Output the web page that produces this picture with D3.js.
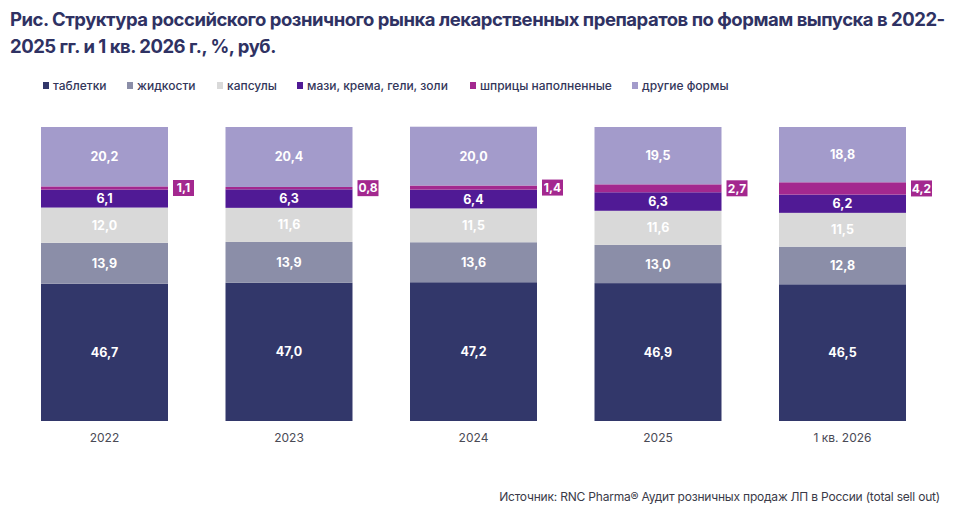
<!DOCTYPE html>
<html>
<head>
<meta charset="utf-8">
<script src="https://cdn.jsdelivr.net/npm/d3@7"></script>
<style>
  body { margin: 0; background: #fff; }
  svg { font-family: Inter, "Noto Sans", sans-serif; }
</style>
</head>
<body>
<svg id="chart" width="957" height="512"></svg>
<script>
var categories = ['2022', '2023', '2024', '2025', '1 кв. 2026'];
var seriesNames = ['таблетки', 'жидкости', 'капсулы', 'мази, крема, гели, золи', 'шприцы наполненные', 'другие формы'];
var seriesColors = ['#32376a', '#8b8ea8', '#d9d9d9', '#501a95', '#a3288f', '#a39bcb'];

var tablets   = [46.7, 47.0, 47.2, 46.9, 46.5];
var liquids   = [13.9, 13.9, 13.6, 13.0, 12.8];
var capsules  = [12.0, 11.6, 11.5, 11.6, 11.5];
var ointments = [6.1, 6.3, 6.4, 6.3, 6.2];
var syringes  = [1.1, 0.8, 1.4, 2.7, 4.2];
var others    = [20.2, 20.4, 20.0, 19.5, 18.8];

var seriesValues = [tablets, liquids, capsules, ointments, syringes, others];

var svg = d3.select('#chart');

// title
var title = svg.append('text')
  .attr('x', 10)
  .attr('fill', '#2f3263')
  .style('font-size', '18.5px')
  .style('font-weight', 700)
  .style('letter-spacing', '-0.48px');
title.append('tspan').attr('x', 10).attr('y', 26)
  .text('Рис. Структура российского розничного рынка лекарственных препаратов по формам выпуска в 2022-');
title.append('tspan').attr('x', 10).attr('y', 53)
  .text('2025 гг. и 1 кв. 2026 г., %, руб.');

// legend
var legendX = [43, 127, 217, 297, 470, 632];
var legend = svg.append('g').attr('class', 'legend');
seriesNames.forEach(function (name, i) {
  var g = legend.append('g').attr('transform', 'translate(' + legendX[i] + ', 86)');
  g.append('rect').attr('x', 0).attr('y', -4).attr('width', 6).attr('height', 7)
    .attr('fill', seriesColors[i]);
  g.append('text').attr('x', 10).attr('y', 4)
    .attr('fill', '#33365a')
    .style('font-size', '12px')
    .style('font-weight', 500)
    .text(name);
});

// scales
var x = d3.scaleBand()
  .domain(categories)
  .range([41, 906])
  .paddingInner(0.3117)
  .paddingOuter(0);

var y = d3.scaleLinear()
  .domain([0, 100])
  .range([421, 127]);

// stacked data
var table = categories.map(function (c, i) {
  var row = { category: c };
  seriesNames.forEach(function (s, j) { row[s] = seriesValues[j][i]; });
  return row;
});
var layers = d3.stack().keys(seriesNames)(table);

var groups = svg.append('g').attr('class', 'bars')
  .selectAll('g')
  .data(layers)
  .enter().append('g')
  .attr('fill', function (d, i) { return seriesColors[i]; });

groups.selectAll('rect')
  .data(function (d) { return d; })
  .enter().append('rect')
  .attr('x', function (d) { return x(d.data.category); })
  .attr('y', function (d) { return y(d[1]); })
  .attr('width', x.bandwidth())
  .attr('height', function (d) { return y(d[0]) - y(d[1]); });

var fmt = function (v) { return d3.format('.1f')(v).replace('.', ','); };

// value labels inside bars (all but syringes)
layers.forEach(function (layer, i) {
  if (i === 4) return;
  svg.append('g').selectAll('text')
    .data(layer)
    .enter().append('text')
    .attr('x', function (d) { return x(d.data.category) + x.bandwidth() / 2; })
    .attr('y', function (d) { return (y(d[0]) + y(d[1])) / 2; })
    .attr('dy', '0.36em')
    .attr('text-anchor', 'middle')
    .attr('fill', '#ffffff')
    .style('font-size', '12.5px')
    .style('font-weight', 700)
    .text(function (d) { return fmt(d[1] - d[0]); });
});

// syringe labels in boxes to the right of bars
var syr = svg.append('g').selectAll('g')
  .data(layers[4])
  .enter().append('g')
  .attr('transform', function (d) {
    var cy = (y(d[0]) + y(d[1])) / 2;
    return 'translate(' + (x(d.data.category) + x.bandwidth() + 5) + ', ' + cy + ')';
  });
syr.append('rect')
  .attr('x', 0).attr('y', -8).attr('width', 21).attr('height', 16)
  .attr('fill', seriesColors[4]);
syr.append('text')
  .attr('x', 10.5).attr('y', 0).attr('dy', '0.36em')
  .attr('text-anchor', 'middle')
  .attr('fill', '#ffffff')
  .style('font-size', '12px')
  .style('font-weight', 700)
  .text(function (d) { return fmt(d[1] - d[0]); });

// x axis
var xAxis = svg.append('g')
  .attr('transform', 'translate(0, 421)')
  .call(d3.axisBottom(x).tickSize(0).tickPadding(12));
xAxis.select('.domain').remove();
xAxis.selectAll('text')
  .attr('fill', '#4a4a55')
  .style('font-family', 'Inter, sans-serif')
  .style('font-size', '12px');

// source
svg.append('text')
  .attr('x', 940)
  .attr('y', 501)
  .attr('text-anchor', 'end')
  .attr('fill', '#3a3a48')
  .style('font-size', '12px')
  .style('letter-spacing', '-0.2px')
  .text('Источник: RNC Pharma® Аудит розничных продаж ЛП в России (total sell out)');
</script>
</body>
</html>
